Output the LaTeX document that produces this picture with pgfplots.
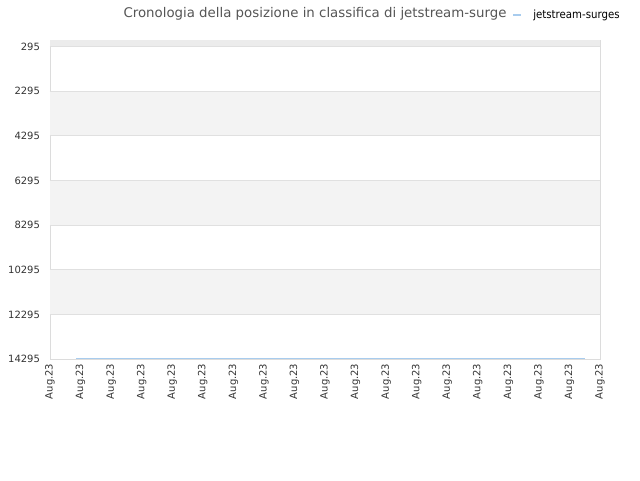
\documentclass[border=0pt]{standalone}
\usepackage{pgfplots}
\pgfplotsset{compat=1.18}
\usepackage{fontspec}
\setmainfont{DejaVu Sans}
\newfontfamily\legfont{DejaVu Sans Condensed}
\definecolor{bandgray}{HTML}{F3F3F3}
\definecolor{topgray}{HTML}{ECECEC}
\definecolor{gridgray}{HTML}{E0E0E0}
\definecolor{bordergray}{HTML}{DCDCDC}
\definecolor{linblue}{HTML}{A8CCEE}
\definecolor{titlegray}{HTML}{555555}
\definecolor{ticktext}{HTML}{333333}
\begin{document}
\begin{tikzpicture}[x=0.75pt,y=0.75pt]
\path[use as bounding box] (0,0) rectangle (640,480);
\begin{axis}[
    at={(50*0.75pt,121*0.75pt)}, anchor=south west,
    scale only axis,
    width=412.5pt, height=239.25pt,
    xmin=0, xmax=18,
    ymin=1, ymax=14295,
    y dir=reverse,
    scaled y ticks=false,
    xtick={0,...,18},
    xticklabels={Aug.23,Aug.23,Aug.23,Aug.23,Aug.23,Aug.23,Aug.23,Aug.23,Aug.23,Aug.23,Aug.23,Aug.23,Aug.23,Aug.23,Aug.23,Aug.23,Aug.23,Aug.23,Aug.23},
    xticklabel style={rotate=90, anchor=east, font=\fontsize{7.5}{9}\selectfont, text=ticktext},
    ytick={295,2295,4295,6295,8295,10295,12295,14295},
    yticklabels={295,2295,4295,6295,8295,10295,12295,14295},
    yticklabel style={font=\fontsize{7.5}{9}\selectfont, text=ticktext, xshift=-4pt},
    ymajorgrids=true,
    grid style={gridgray, line width=0.6pt},
    axis line style={bordergray},
    major tick length=0pt,
    tick style={draw=none},
    axis on top=false,
    clip=true,
]
\fill[topgray] (axis cs:0,1) rectangle (axis cs:18,295);
\fill[bandgray] (axis cs:0,2295) rectangle (axis cs:18,4295);
\fill[bandgray] (axis cs:0,6295) rectangle (axis cs:18,8295);
\fill[bandgray] (axis cs:0,10295) rectangle (axis cs:18,12295);
\pgfplotsinvokeforeach{295,2295,4295,6295,8295,10295,12295}{
  \draw[gridgray, line width=0.6pt] (axis cs:0,#1) -- (axis cs:18,#1);
}
\addplot[linblue, line width=1pt, mark=none] coordinates {
(0.85,14260) (1,14260) (2,14260) (3,14260) (4,14260) (5,14260) (6,14260)
(7,14260) (8,14260) (9,14260) (10,14260) (11,14260) (12,14260) (13,14260)
(14,14260) (15,14260) (16,14260) (17,14260) (17.5,14260)
};
\end{axis}
\node[anchor=base, text=titlegray, font=\fontsize{10}{12}\selectfont] at (315,480-17) {Cronologia della posizione in classifica di jetstream-surge};
\draw[linblue, line width=1pt] (513,480-15) -- (521,480-15);
\node[anchor=base west, inner sep=0pt, font=\legfont\fontsize{8.5}{10}\selectfont] at (533,480-18) {jetstream-surges};
\end{tikzpicture}
\end{document}
